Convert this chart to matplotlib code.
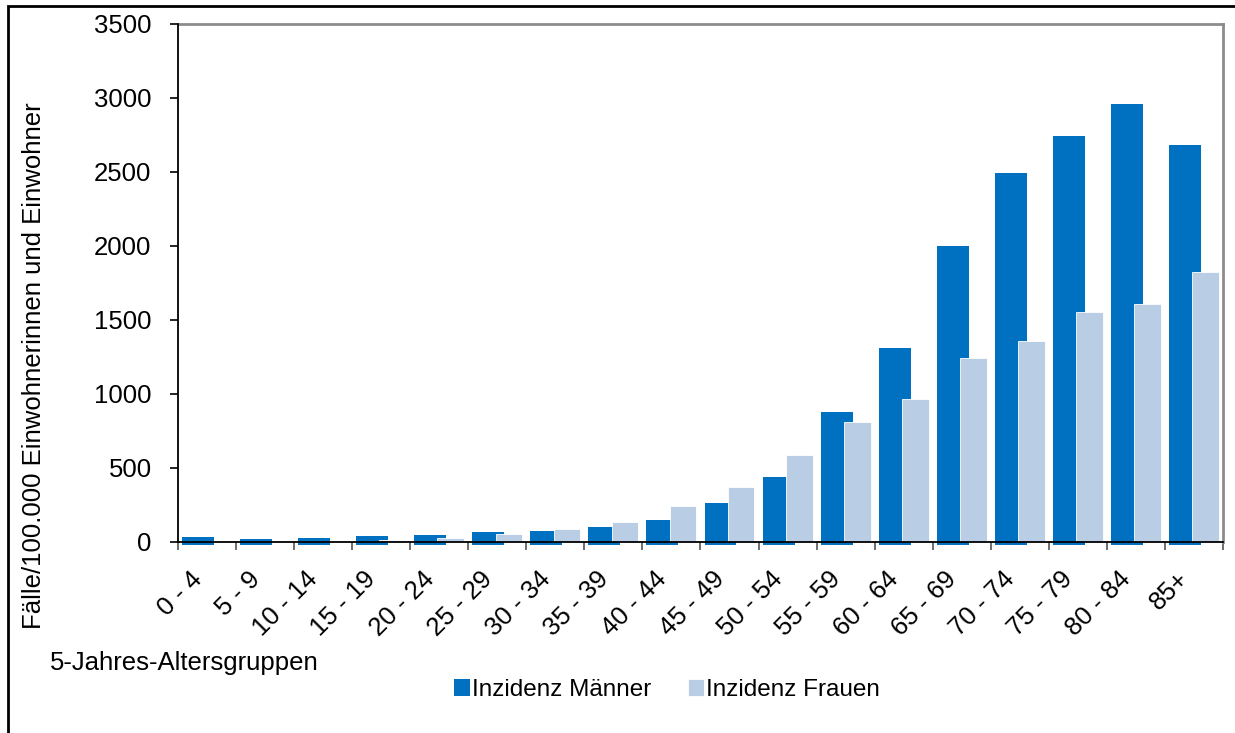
import numpy as np
import matplotlib.pyplot as plt
import matplotlib.transforms as mtransforms
from matplotlib.patches import Rectangle

plt.rcParams['font.family'] = ['Liberation Sans', 'DejaVu Sans']

# data
groups = ["0 - 4", "5 - 9", "10 - 14", "15 - 19", "20 - 24", "25 - 29", "30 - 34",
          "35 - 39", "40 - 44", "45 - 49", "50 - 54", "55 - 59", "60 - 64",
          "65 - 69", "70 - 74", "75 - 79", "80 - 84", "85+"]
maenner = [32, 20, 25, 40, 50, 65, 75, 100, 150, 262, 441, 881, 1308, 2003, 2490, 2745, 2961, 2680]
frauen = [2, 1, 3, 15, 25, 55, 85, 137, 243, 374, 586, 809, 967, 1242, 1357, 1555, 1607, 1827]

dark = '#0070C0'
light = '#B9CDE5'
fs = 18.5

fig = plt.figure(figsize=(12.35, 7.33), dpi=100)
ax = fig.add_axes([0.1441, 0.2606, 0.8462, 0.7067])

x = np.arange(len(groups))
stub = 20  # the dark bars poke a little below the axis line
ax.bar(x - 0.155, np.array(maenner) + stub, bottom=-stub, width=0.55, color=dark,
       zorder=2, clip_on=False, label='Inzidenz Männer')
ax.bar(x + 0.2, frauen, width=0.46, color=light, edgecolor='white', linewidth=0.6,
       zorder=3, label='Inzidenz Frauen')

ax.set_xlim(-0.5, len(groups) - 0.5)
ax.set_ylim(0, 3500)
ax.set_yticks(np.arange(0, 3501, 500))
ax.set_xticks(x)
ax.set_xticklabels(groups, rotation=45, ha='right', va='center', rotation_mode='anchor')
ax.set_xticks(np.arange(-0.5, len(groups)), minor=True)
ax.tick_params(axis='x', which='major', length=0, pad=24, labelsize=fs)
ax.tick_params(axis='x', which='minor', length=6, width=1.2, color='#555555')
ax.tick_params(axis='y', length=6, width=1.2, labelsize=fs, pad=13)
# nudge the slanted labels to the left (after tick_params, which resets transforms)
shift = mtransforms.ScaledTranslation(-9 / 100, 0, fig.dpi_scale_trans)
for lab in ax.xaxis.get_majorticklabels():
    lab.set_transform(lab.get_transform() + shift)

for s in ['left', 'bottom']:
    ax.spines[s].set_color('black')
    ax.spines[s].set_linewidth(1.3)
    ax.spines[s].set_zorder(5)
for s in ['top', 'right']:
    ax.spines[s].set_color('#8C8C8C')
    ax.spines[s].set_linewidth(2)

ax.set_ylabel('Fälle/100.000 Einwohnerinnen und Einwohner', fontsize=fs)
ax.yaxis.set_label_coords(-0.126, 0.34)

fig.text(50 / 1235, 1 - 663 / 733, '5-Jahres-Altersgruppen', fontsize=fs, va='center')

ax.legend(loc='center', bbox_to_anchor=(667 / 1235, 1 - 690 / 733),
          bbox_transform=fig.transFigure, ncol=2, frameon=False, fontsize=17.5,
          handlelength=0.65, handleheight=0.65, handletextpad=0.1, columnspacing=1.5)

# outer frame, open to the right and bottom
top = 1 - 6 / 733
fig.patches.append(Rectangle((8 / 1235, -0.05), 1.2, top + 0.05,
                             transform=fig.transFigure, fill=False,
                             edgecolor='black', linewidth=2))

fig.savefig('out.png', dpi=100)
